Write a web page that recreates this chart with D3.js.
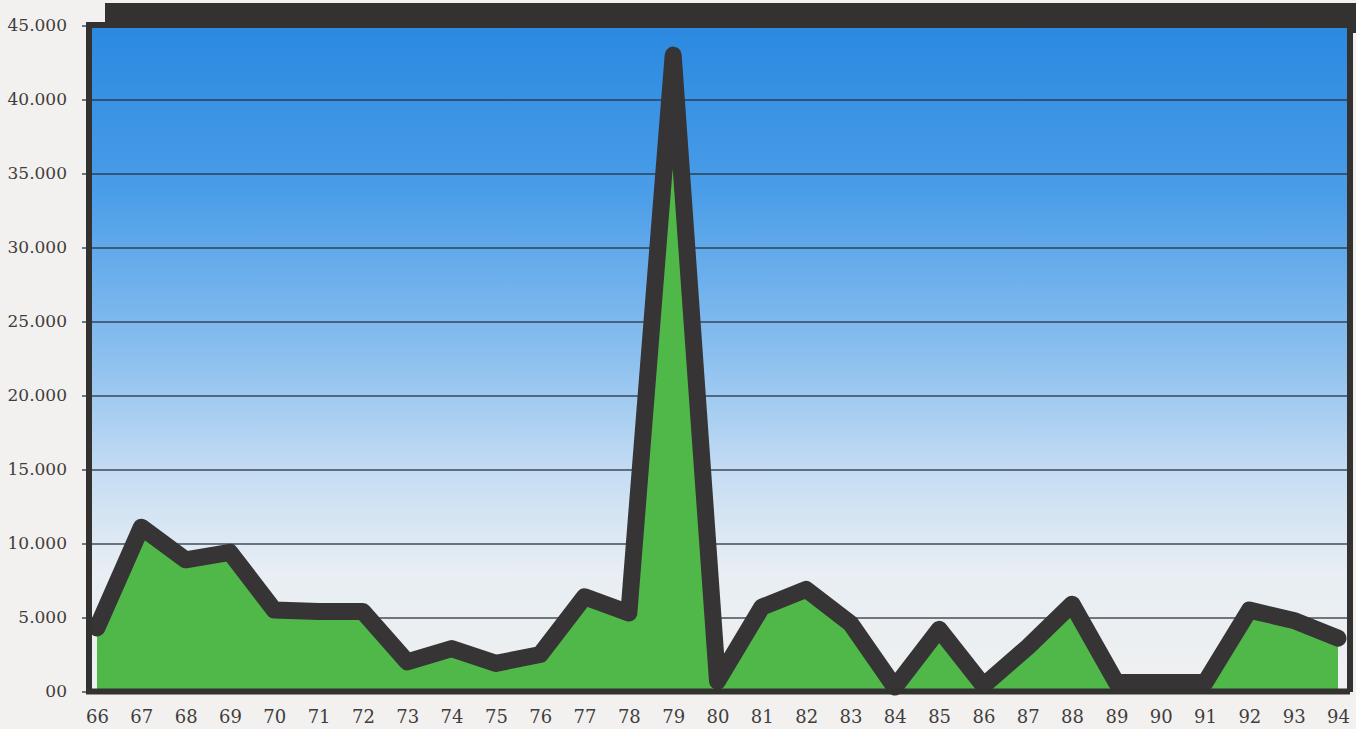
<!DOCTYPE html>
<html>
<head>
<meta charset="utf-8">
<script src="https://cdn.jsdelivr.net/npm/d3@7"></script>
<style>
  body { margin: 0; background: #f3f1ef; }
  svg { display: block; }
</style>
</head>
<body>
<div id="chart"></div>
<script>
// years on the x axis (two-digit labels)
var years = ["66", "67", "68", "69", "70", "71", "72", "73", "74", "75",
             "76", "77", "78", "79", "80", "81", "82", "83", "84", "85",
             "86", "87", "88", "89", "90", "91", "92", "93", "94"];

// values
var values = [4300, 11100, 8900, 9400, 5500, 5400, 5400, 2000, 2900, 1900,
              2500, 6400, 5300, 43000, 700, 5700, 6900, 4600, 300, 4200,
              400, 3000, 5900, 600, 600, 600, 5500, 4800, 3600];

var yTicks = [0, 5000, 10000, 15000, 20000, 25000, 30000, 35000, 40000, 45000];

const W = 1356, H = 729;
const frame = {left: 89, top: 25, right: 1350, bottom: 692};

var svg = d3.select('#chart')
    .append('svg')
    .attr('width', W)
    .attr('height', H);

svg.append('rect')
    .attr('width', W)
    .attr('height', H)
    .attr('fill', '#f3f1ef');

var grad = svg.append('defs')
    .append('linearGradient')
    .attr('id', 'sky')
    .attr('x1', 0).attr('y1', 0)
    .attr('x2', 0).attr('y2', 1);
grad.append('stop').attr('offset', '0%').attr('stop-color', '#2a89e0');
grad.append('stop').attr('offset', '25%').attr('stop-color', '#4a9de8');
grad.append('stop').attr('offset', '50%').attr('stop-color', '#8dc0ef');
grad.append('stop').attr('offset', '68%').attr('stop-color', '#c8def3');
grad.append('stop').attr('offset', '82%').attr('stop-color', '#e8eef3');
grad.append('stop').attr('offset', '100%').attr('stop-color', '#eff0f1');

var x = d3.scalePoint()
    .domain(years)
    .range([97, 1338]);

var y = d3.scaleLinear()
    .domain([0, 45000])
    .range([691.5, 25.5]);

// dark band behind the top of the box (3D shadow look)
svg.append('rect')
    .attr('x', 105)
    .attr('y', 3)
    .attr('width', W - 105)
    .attr('height', 30)
    .attr('fill', '#333230');

svg.append('rect')
    .attr('x', frame.right - 3)
    .attr('y', 3)
    .attr('width', 6)
    .attr('height', frame.bottom - 3)
    .attr('fill', '#333230');

// sky background of the plot
svg.append('rect')
    .attr('x', frame.left)
    .attr('y', frame.top)
    .attr('width', frame.right - 3 - frame.left)
    .attr('height', frame.bottom - frame.top)
    .attr('fill', 'url(#sky)');

// y axis with gridlines
var fmt = d3.formatLocale({decimal: ",", thousands: ".", grouping: [3], currency: ["", ""]}).format(",");

var yAxis = svg.append('g')
    .attr('transform', 'translate(' + frame.left + ',0)')
    .call(d3.axisLeft(y)
        .tickValues(yTicks)
        .tickSize(-(frame.right - 3 - frame.left))
        .tickPadding(0)
        .tickFormat(d => d == 0 ? "00" : fmt(d)));

yAxis.select('.domain').remove();
yAxis.selectAll('.tick line')
    .attr('x1', -7)
    .attr('stroke', '#27313d')
    .attr('stroke-width', 1.3)
    .attr('opacity', 0.85);
yAxis.selectAll('.tick text')
    .attr('x', -22)
    .attr('font-family', 'DejaVu Serif')
    .attr('font-size', '17px')
    .attr('fill', '#3f3d3d');

// green area under the line
svg.append('path')
    .datum(values)
    .attr('d', d3.area()
        .x((d, i) => x(years[i]))
        .y0(y(0))
        .y1(d => y(d)))
    .attr('fill', '#50b848');

// thick dark line
svg.append('path')
    .datum(values)
    .attr('d', d3.line()
        .x((d, i) => x(years[i]))
        .y(d => y(d)))
    .attr('fill', 'none')
    .attr('stroke', '#363434')
    .attr('stroke-width', 17)
    .attr('stroke-linejoin', 'round')
    .attr('stroke-linecap', 'round');

// box frame: left and top edges
svg.append('rect')
    .attr('x', 86)
    .attr('y', 22)
    .attr('width', 6)
    .attr('height', frame.bottom - 22)
    .attr('fill', '#333230');

svg.append('rect')
    .attr('x', 86)
    .attr('y', 22)
    .attr('width', frame.right - 86)
    .attr('height', 6)
    .attr('fill', '#333230');

// x axis
var xAxis = svg.append('g')
    .attr('transform', 'translate(0,' + y(0) + ')')
    .call(d3.axisBottom(x).tickSize(0).tickPadding(0));

xAxis.select('.domain')
    .attr('d', 'M86,0H' + frame.right)
    .attr('stroke', '#333230')
    .attr('stroke-width', 6);
xAxis.selectAll('.tick text')
    .attr('y', 19)
    .attr('dy', '0.71em')
    .attr('font-family', 'DejaVu Serif')
    .attr('font-size', '18px')
    .attr('fill', '#3f3d3d');
</script>
</body>
</html>
